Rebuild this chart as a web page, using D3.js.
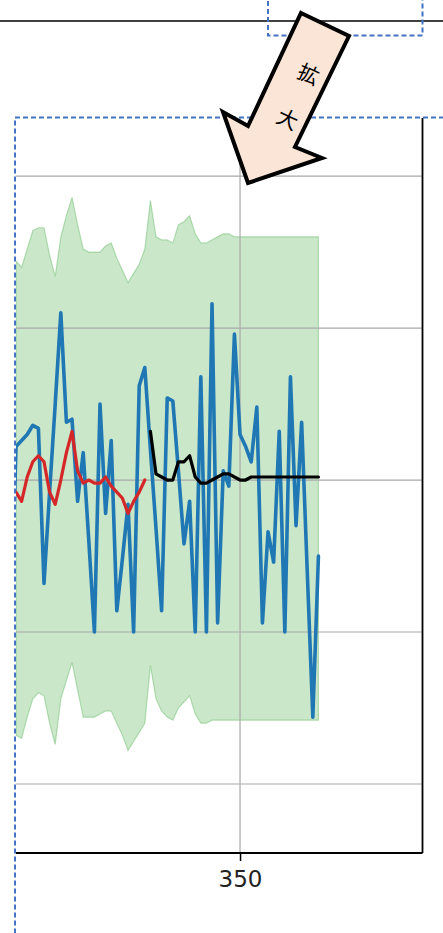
<html>
  <head>
    <meta charset="utf-8">
    <title>zoom</title>
    <script src="https://cdn.jsdelivr.net/npm/d3@7"></script>
    <style>
body { margin: 0; background: #fff; }
.grid line { stroke: #a8a8a8; stroke-width: 1.2px; }
.spine { stroke: #000; stroke-width: 1.8px; }
.dash { fill: none; stroke: #4472c4; stroke-width: 2px; stroke-dasharray: 5,3; }
    </style>
  </head>
  <body>
    <script>

// x positions of the samples
var steps = [309, 310, 311, 312, 313, 314, 315, 316, 317, 318, 319, 320, 321, 322, 323, 324,
  325, 326, 327, 328, 329, 330, 331, 332, 333, 334, 335, 336, 337, 338, 339, 340, 341, 342,
  343, 344, 345, 346, 347, 348, 349, 350, 351, 352, 353, 354, 355, 356, 357, 358, 359, 360,
  361, 362, 363, 364];

var observed = [-0.55, 0.11, 0.13, 0.15, 0.18, 0.17, -0.34, -0.04, 0.25, 0.55, 0.19, 0.20,
  -0.07, 0.09, -0.20, -0.50, 0.25, -0.11, 0.13, -0.43, -0.26, -0.08, -0.50, 0.31, 0.37, 0.10,
  -0.16, -0.43, 0.27, 0.26, 0.03, -0.21, -0.07, -0.50, 0.34, -0.50, 0.58, -0.47, 0.03, -0.02,
  0.48, 0.15, 0.11, 0.06, 0.24, -0.47, -0.17, -0.27, 0.16, -0.50, 0.34, -0.15, 0.19, -0.30,
  -0.78, -0.25];

// fitted part (310..333)
var fitted = [-0.04, -0.07, 0.01, 0.06, 0.08, 0.06, -0.04, -0.08, 0.00, 0.09, 0.16, 0.03,
  -0.01, 0.00, -0.01, -0.01, 0.01, -0.02, -0.04, -0.06, -0.11, -0.07, -0.04, 0.00];

// forecast part (334..364)
var forecast = [0.16, 0.02, 0.01, 0.00, 0.00, 0.06, 0.06, 0.08, 0.01, -0.01, -0.01, 0.00,
  0.01, 0.02, 0.02, 0.01, 0.00, 0.00, 0.01, 0.01, 0.01, 0.01, 0.01, 0.01, 0.01, 0.01, 0.01,
  0.01, 0.01, 0.01, 0.01];

// confidence band (310..364)
var bandUpper = [0.72, 0.70, 0.76, 0.82, 0.83, 0.83, 0.74, 0.67, 0.80, 0.87, 0.93, 0.84,
  0.76, 0.75, 0.75, 0.75, 0.77, 0.78, 0.73, 0.69, 0.65, 0.68, 0.71, 0.76, 0.92, 0.80, 0.79,
  0.79, 0.78, 0.84, 0.85, 0.87, 0.81, 0.78, 0.78, 0.79, 0.80, 0.81, 0.81, 0.80, 0.80, 0.80,
  0.80, 0.80, 0.80, 0.80, 0.80, 0.80, 0.80, 0.80, 0.80, 0.80, 0.80, 0.80, 0.80];
var bandLower = [-0.84, -0.85, -0.78, -0.72, -0.70, -0.71, -0.80, -0.87, -0.72, -0.66, -0.60,
  -0.69, -0.78, -0.78, -0.78, -0.77, -0.76, -0.76, -0.80, -0.84, -0.89, -0.86, -0.83, -0.80,
  -0.61, -0.72, -0.76, -0.78, -0.79, -0.75, -0.73, -0.71, -0.77, -0.80, -0.80, -0.79, -0.79,
  -0.79, -0.79, -0.79, -0.79, -0.79, -0.79, -0.79, -0.79, -0.79, -0.79, -0.79, -0.79, -0.79,
  -0.79, -0.79, -0.79, -0.79, -0.79];

var xTicks = [300, 350, 400];
var yTicks = [-1.0, -0.5, 0.0, 0.5, 1.0];

var width = 443, height = 933;
var pLeft = 16, pRight = 422.5, pTop = 118, pBottom = 853;

var svg = d3.select("body").append("svg")
    .attr("width", width)
    .attr("height", height);

var x = d3.scaleLinear().domain([310, 382.58]).range([pLeft, pRight]);
var y = d3.scaleLinear().domain([-1.227, 1.191]).range([pBottom, pTop]);

svg.append("clipPath").attr("id", "plotclip")
  .append("rect").attr("x", pLeft).attr("y", pTop)
    .attr("width", pRight - pLeft).attr("height", pBottom - pTop);

var plot = svg.append("g").attr("clip-path", "url(#plotclip)");

var bandSteps = steps.slice(1);
var area = d3.area()
    .x(function(d, i) { return x(bandSteps[i]); })
    .y0(function(d, i) { return y(bandLower[i]); })
    .y1(function(d) { return y(d); });
plot.append("path")
    .attr("d", area(bandUpper))
    .attr("fill", "#2ca02c").attr("fill-opacity", 0.25)
    .attr("stroke", "#2ca02c").attr("stroke-opacity", 0.3).attr("stroke-width", 1.2);

// grid
var grid = plot.append("g").attr("class", "grid");
grid.selectAll(".gy").data(yTicks).enter().append("line")
    .attr("x1", pLeft).attr("x2", pRight)
    .attr("y1", function(d) { return y(d); }).attr("y2", function(d) { return y(d); });
grid.selectAll(".gx").data(xTicks).enter().append("line")
    .attr("y1", pTop).attr("y2", pBottom)
    .attr("x1", function(d) { return x(d); }).attr("x2", function(d) { return x(d); });

function drawLine(xs, ys, color, w) {
  var line = d3.line()
      .x(function(d, i) { return x(xs[i]); })
      .y(function(d) { return y(d); });
  plot.append("path").attr("d", line(ys))
      .attr("fill", "none").attr("stroke", color).attr("stroke-width", w)
      .attr("stroke-linejoin", "round").attr("stroke-linecap", "round");
}

drawLine(steps, observed, "#1f77b4", 3.6);
drawLine(steps.slice(1, 25), fitted, "#d62728", 3.2);
drawLine(steps.slice(25), forecast, "#000", 3.2);

// spines + x axis
svg.append("line").attr("class", "spine")
    .attr("x1", pRight).attr("x2", pRight).attr("y1", pTop).attr("y2", pBottom);
var xAxis = d3.axisBottom(x)
    .tickValues(xTicks.filter(function(t) { return x(t) >= pLeft && x(t) <= pRight; }))
    .tickSize(8).tickPadding(10).tickFormat(d3.format("d"));
var ax = svg.append("g").attr("transform", "translate(0," + pBottom + ")").call(xAxis);
ax.select(".domain").attr("stroke-width", 1.8).attr("d", "M" + pLeft + ",0H" + pRight);
ax.selectAll(".tick line").attr("stroke-width", 1.5);
ax.selectAll(".tick text").attr("font-family", "DejaVu Sans").attr("font-size", 23).attr("fill", "#222");

// page furniture around the zoom
svg.append("line").attr("x1", 0).attr("x2", width).attr("y1", 21).attr("y2", 21)
    .attr("stroke", "#000").attr("stroke-width", 1.5);
svg.append("rect").attr("class", "dash").attr("x", 268).attr("y", -10).attr("width", 154.5).attr("height", 45.5);
svg.append("rect").attr("class", "dash").attr("x", 15).attr("y", 117.5).attr("width", 460).attr("height", 840);

svg.append("polygon")
    .attr("points", "301,13 349,36 295,147 322,158 248,183 223,112 248,126")
    .attr("fill", "#fbe5d6").attr("stroke", "#000").attr("stroke-width", 4)
    .attr("stroke-linejoin", "miter");

var label = [["拡", 309, 73], ["大", 288, 118]];
svg.selectAll(".lbl").data(label).enter().append("text")
    .attr("transform", function(d) { return "translate(" + d[1] + "," + d[2] + ") rotate(25)"; })
    .attr("text-anchor", "middle").attr("dominant-baseline", "central")
    .attr("font-family", "Noto Sans CJK JP").attr("font-size", 21)
    .text(function(d) { return d[0]; });

</script>
  </body>
</html>
